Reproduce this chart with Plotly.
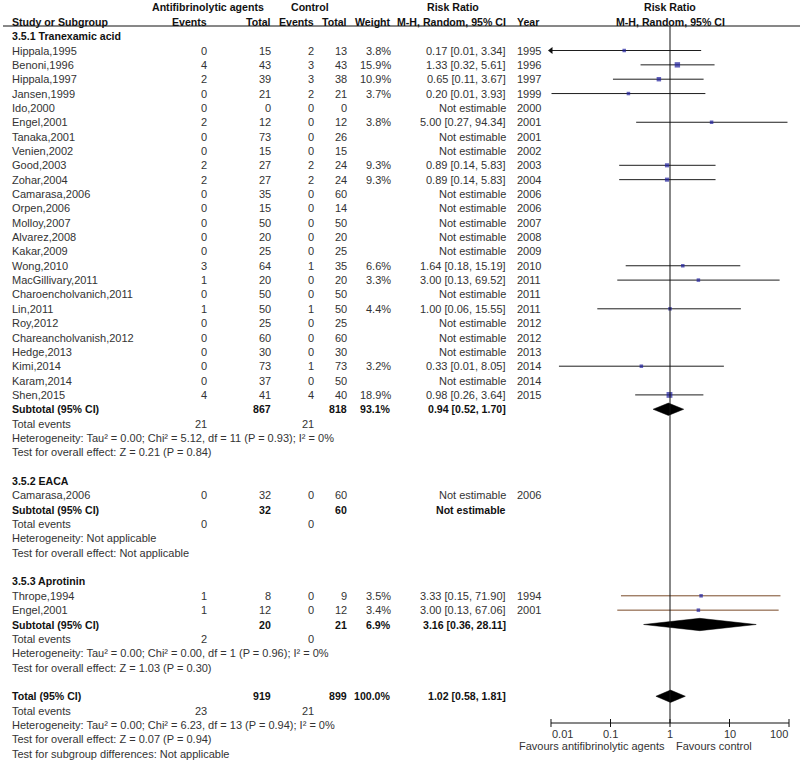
import numpy as np
import plotly.graph_objects as go

# ---------------- data ----------------
tx_study = ["Hippala,1995", "Benoni,1996", "Hippala,1997", "Jansen,1999", "Ido,2000", "Engel,2001",
            "Tanaka,2001", "Venien,2002", "Good,2003", "Zohar,2004", "Camarasa,2006", "Orpen,2006",
            "Molloy,2007", "Alvarez,2008", "Kakar,2009", "Wong,2010", "MacGillivary,2011",
            "Charoencholvanich,2011", "Lin,2011", "Roy,2012", "Chareancholvanish,2012", "Hedge,2013",
            "Kimi,2014", "Karam,2014", "Shen,2015"]
tx_e1 = [0, 4, 2, 0, 0, 2, 0, 0, 2, 2, 0, 0, 0, 0, 0, 3, 1, 0, 1, 0, 0, 0, 0, 0, 4]
tx_n1 = [15, 43, 39, 21, 0, 12, 73, 15, 27, 27, 35, 15, 50, 20, 25, 64, 20, 50, 50, 25, 60, 30, 73, 37, 41]
tx_e2 = [2, 3, 3, 2, 0, 0, 0, 0, 2, 2, 0, 0, 0, 0, 0, 1, 0, 0, 1, 0, 0, 0, 1, 0, 4]
tx_n2 = [13, 43, 38, 21, 0, 12, 26, 15, 24, 24, 60, 14, 50, 20, 25, 35, 20, 50, 50, 25, 60, 30, 73, 50, 40]
tx_w = [3.8, 15.9, 10.9, 3.7, None, 3.8, None, None, 9.3, 9.3, None, None, None, None, None,
        6.6, 3.3, None, 4.4, None, None, None, 3.2, None, 18.9]
tx_rr = [0.17, 1.33, 0.65, 0.20, None, 5.00, None, None, 0.89, 0.89, None, None, None, None, None,
         1.64, 3.00, None, 1.00, None, None, None, 0.33, None, 0.98]
tx_lo = [0.0087, 0.32, 0.11, 0.0102, None, 0.27, None, None, 0.14, 0.14, None, None, None, None, None,
         0.18, 0.13, None, 0.06, None, None, None, 0.0136, None, 0.26]
tx_hi = [3.34, 5.61, 3.67, 3.93, None, 94.34, None, None, 5.83, 5.83, None, None, None, None, None,
         15.19, 69.52, None, 15.55, None, None, None, 8.05, None, 3.64]
tx_year = [1995, 1996, 1997, 1999, 2000, 2001, 2001, 2002, 2003, 2004, 2006, 2006, 2007, 2008, 2009,
           2010, 2011, 2011, 2011, 2012, 2012, 2013, 2014, 2014, 2015]

ea_study = ["Camarasa,2006"]
ea_e1 = [0]; ea_n1 = [32]; ea_e2 = [0]; ea_n2 = [60]
ea_w = [None]; ea_rr = [None]; ea_lo = [None]; ea_hi = [None]; ea_year = [2006]

ap_study = ["Thrope,1994", "Engel,2001"]
ap_e1 = [1, 1]; ap_n1 = [8, 12]; ap_e2 = [0, 0]; ap_n2 = [9, 12]
ap_w = [3.5, 3.4]; ap_rr = [3.33, 3.00]; ap_lo = [0.15, 0.13]; ap_hi = [71.90, 67.06]
ap_year = [1994, 2001]

group_titles = ["3.5.1 Tranexamic acid", "3.5.2 EACA", "3.5.3 Aprotinin"]
sub_n1 = [867, 32, 20]
sub_n2 = [818, 60, 21]
sub_w = [93.1, None, 6.9]
sub_rr = [0.94, None, 3.16]
sub_lo = [0.52, None, 0.36]
sub_hi = [1.70, None, 28.11]
sub_ev1 = [21, 0, 2]
sub_ev2 = [21, 0, 0]
sub_het = ["Heterogeneity: Tau\u00b2 = 0.00; Chi\u00b2 = 5.12, df = 11 (P = 0.93); I\u00b2 = 0%",
           "Heterogeneity: Not applicable",
           "Heterogeneity: Tau\u00b2 = 0.00; Chi\u00b2 = 0.00, df = 1 (P = 0.96); I\u00b2 = 0%"]
sub_test = ["Test for overall effect: Z = 0.21 (P = 0.84)",
            "Test for overall effect: Not applicable",
            "Test for overall effect: Z = 1.03 (P = 0.30)"]

tot_n1, tot_n2, tot_w = 919, 899, 100.0
tot_rr, tot_lo, tot_hi = 1.02, 0.58, 1.81
tot_ev1, tot_ev2 = 23, 21
tot_het = "Heterogeneity: Tau\u00b2 = 0.00; Chi\u00b2 = 6.23, df = 13 (P = 0.94); I\u00b2 = 0%"
tot_test = "Test for overall effect: Z = 0.07 (P = 0.94)"
tot_sub = "Test for subgroup differences: Not applicable"

tick_vals = [0.01, 0.1, 1, 10, 100]
tick_text = ["0.01", "0.1", "1", "10", "100"]
fav_left = "Favours antifibrinolytic agents"
fav_right = "Favours control"

groups = [
    (tx_study, tx_e1, tx_n1, tx_e2, tx_n2, tx_w, tx_rr, tx_lo, tx_hi, tx_year),
    (ea_study, ea_e1, ea_n1, ea_e2, ea_n2, ea_w, ea_rr, ea_lo, ea_hi, ea_year),
    (ap_study, ap_e1, ap_n1, ap_e2, ap_n2, ap_w, ap_rr, ap_lo, ap_hi, ap_year),
]
group_line_color = ["#1e1e1e", "#1e1e1e", "#7a4a28"]

# ---------------- layout constants ----------------
W, H = 800, 760
ROW0, STEP = 21.8, 14.35          # pixel centre of row 0 and row pitch
X_STUDY, X_E1, X_N1, X_E2, X_N2, X_W, X_RR, X_YEAR = 11, 208, 272, 315, 348, 392, 507, 516
PLOT_L, PLOT_R = 551, 789
XMIN, XMAX = 0.01, 100
PAD = 0.02
ppd = (PLOT_R - PLOT_L) / 4.0
TXT = "#333333"
FONT = "Arial, Liberation Sans, sans-serif"
BOLD_SIZE = 10.6
NORM_SIZE = 11

annotations = []


def px2paper(x):
    return x / W


def txt(x, k, s, anchor="left", bold=False, color=None):
    annotations.append(dict(
        x=px2paper(x), y=k, xref="paper", yref="y", text=("<b>%s</b>" % s) if bold else s,
        showarrow=False, xanchor=anchor, yanchor="middle",
        font=dict(family=FONT, size=BOLD_SIZE if bold else NORM_SIZE,
                  color=color or ("#111111" if bold else TXT)),
        borderpad=0))


def ci_text(rr, lo, hi):
    return "%.2f [%.2f, %.2f]" % (rr, lo, hi)


# header
txt(208, -1, "Antifibrinolytic agents", "center", True)
txt(310, -1, "Control", "center", True)
txt(453, -1, "Risk Ratio", "center", True)
txt(670, -1, "Risk Ratio", "center", True)
txt(X_STUDY, 0, "Study or Subgroup", "left", True)
txt(X_E1, 0, "Events", "right", True)
txt(X_N1, 0, "Total", "right", True)
txt(X_E2, 0, "Events", "right", True)
txt(X_N2, 0, "Total", "right", True)
txt(X_W, 0, "Weight", "right", True)
txt(X_RR, 0, "M-H, Random, 95% CI", "right", True)
txt(X_YEAR, 0, "Year", "left", True)
txt(670, 0, "M-H, Random, 95% CI", "center", True)

traces = []
diamonds = []
k = 1
for gi, g in enumerate(groups):
    study, e1, n1, e2, n2, w, rr, lo, hi, year = g
    txt(X_STUDY, k, group_titles[gi], "left", True)
    k += 1
    lx, ly, sx, sy, ss = [], [], [], [], []
    ax_, ay_ = [], []
    for i in range(len(study)):
        txt(X_STUDY, k, study[i])
        txt(X_E1, k, str(e1[i]), "right")
        txt(X_N1, k, str(n1[i]), "right")
        txt(X_E2, k, str(e2[i]), "right")
        txt(X_N2, k, str(n2[i]), "right")
        if w[i] is not None:
            txt(X_W, k, "%.1f%%" % w[i], "right")
            txt(X_RR, k, ci_text(rr[i], lo[i], hi[i]), "right")
            lx += [max(lo[i], XMIN), min(hi[i], XMAX), None]
            ly += [k, k, None]
            sx.append(rr[i]); sy.append(k); ss.append(max(3.5, 1.35 * np.sqrt(w[i])))
            if lo[i] < XMIN:
                ax_.append(XMIN); ay_.append(k)
        else:
            txt(X_RR, k, "Not estimable", "right")
        txt(X_YEAR, k, str(year[i]))
        k += 1
    if lx:
        traces.append(go.Scatter(x=lx, y=ly, mode="lines", line=dict(color=group_line_color[gi], width=1),
                                 hoverinfo="skip", cliponaxis=False))
    if ax_:
        traces.append(go.Scatter(x=ax_, y=ay_, mode="markers", marker=dict(symbol="triangle-left", size=6,
                                 color="#111111"), hoverinfo="skip", cliponaxis=False))
    if sx:
        traces.append(go.Scatter(x=sx, y=sy, mode="markers",
                                 marker=dict(symbol="square", size=ss, color="#1f1f9e",
                                             line=dict(width=0)), hoverinfo="skip", cliponaxis=False))
    # subtotal
    txt(X_STUDY, k, "Subtotal (95% CI)", "left", True)
    txt(X_N1, k, str(sub_n1[gi]), "right", True)
    txt(X_N2, k, str(sub_n2[gi]), "right", True)
    if sub_rr[gi] is not None:
        txt(X_W, k, "%.1f%%" % sub_w[gi], "right", True)
        txt(X_RR, k, ci_text(sub_rr[gi], sub_lo[gi], sub_hi[gi]), "right", True)
        diamonds.append((sub_rr[gi], sub_lo[gi], sub_hi[gi], k))
    else:
        txt(X_RR, k, "Not estimable", "right", True)
    k += 1
    txt(X_STUDY, k, "Total events")
    txt(X_E1, k, str(sub_ev1[gi]), "right")
    txt(X_E2, k, str(sub_ev2[gi]), "right")
    k += 1
    txt(X_STUDY, k, sub_het[gi])
    k += 1
    txt(X_STUDY, k, sub_test[gi])
    k += 2

# overall
txt(X_STUDY, k, "Total (95% CI)", "left", True)
txt(X_N1, k, str(tot_n1), "right", True)
txt(X_N2, k, str(tot_n2), "right", True)
txt(X_W, k, "%.1f%%" % tot_w, "right", True)
txt(X_RR, k, ci_text(tot_rr, tot_lo, tot_hi), "right", True)
diamonds.append((tot_rr, tot_lo, tot_hi, k))
k += 1
txt(X_STUDY, k, "Total events")
txt(X_E1, k, str(tot_ev1), "right")
txt(X_E2, k, str(tot_ev2), "right")
k += 1
txt(X_STUDY, k, tot_het)
k += 1
txt(X_STUDY, k, tot_test)
k += 1
txt(X_STUDY, k, tot_sub)

# diamonds
DH = 0.43
for (r, lo_, hi_, kk) in diamonds:
    traces.append(go.Scatter(x=[lo_, r, hi_, r, lo_], y=[kk, kk - DH, kk, kk + DH, kk], mode="lines",
                             fill="toself", fillcolor="#000000", line=dict(color="#000000", width=0.5),
                             hoverinfo="skip", cliponaxis=False))

# vertical line of no effect and axis
K_TOPLINE = (26 - ROW0) / STEP
K_AXIS = (723 - ROW0) / STEP
K_TICKLAB = (733.5 - ROW0) / STEP
K_FAV = (746 - ROW0) / STEP
TK = 4.0 / STEP

traces.append(go.Scatter(x=[1, 1], y=[K_TOPLINE, K_AXIS], mode="lines", line=dict(color="#111111", width=1),
                         hoverinfo="skip", cliponaxis=False))
axx, axy = [XMIN, XMAX, None], [K_AXIS, K_AXIS, None]
for v in tick_vals:
    axx += [v, v, None]
    axy += [K_AXIS - TK, K_AXIS + TK, None]
traces.append(go.Scatter(x=axx, y=axy, mode="lines", line=dict(color="#111111", width=1),
                         hoverinfo="skip", cliponaxis=False))

for i, (v, t) in enumerate(zip(tick_vals, tick_text)):
    anchor = "left" if i == 0 else ("right" if i == len(tick_vals) - 1 else "center")
    annotations.append(dict(x=np.log10(v), y=K_TICKLAB, xref="x", yref="y", text=t, showarrow=False,
                            xanchor=anchor, yanchor="middle", borderpad=0,
                            font=dict(family=FONT, size=NORM_SIZE, color=TXT)))
annotations.append(dict(x=np.log10(1) - 4.0 / ppd, y=K_FAV, xref="x", yref="y", text=fav_left, showarrow=False,
                        xanchor="right", yanchor="middle", borderpad=0,
                        font=dict(family=FONT, size=NORM_SIZE, color=TXT)))
annotations.append(dict(x=np.log10(1) + 5.0 / ppd, y=K_FAV, xref="x", yref="y", text=fav_right, showarrow=False,
                        xanchor="left", yanchor="middle", borderpad=0,
                        font=dict(family=FONT, size=NORM_SIZE, color=TXT)))

fig = go.Figure(traces)
pad_px = PAD * ppd
fig.update_layout(
    width=W, height=H, autosize=False,
    margin=dict(l=0, r=0, t=0, b=0),
    paper_bgcolor="white", plot_bgcolor="white",
    showlegend=False,
    xaxis=dict(type="log", range=[np.log10(XMIN) - PAD, np.log10(XMAX) + PAD],
               domain=[(PLOT_L - pad_px) / W, (PLOT_R + pad_px) / W],
               visible=False, fixedrange=True),
    yaxis=dict(range=[(H - ROW0) / STEP, -ROW0 / STEP], visible=False, fixedrange=True),
    annotations=annotations,
    shapes=[dict(type="line", xref="paper", yref="y", x0=3 / W, x1=1.0, y0=K_TOPLINE, y1=K_TOPLINE,
                 line=dict(color="#111111", width=1))],
)
fig.write_html("out.html", config={"displayModeBar": False},
               post_script="document.body.style.margin='0';document.body.style.overflow='hidden';")
